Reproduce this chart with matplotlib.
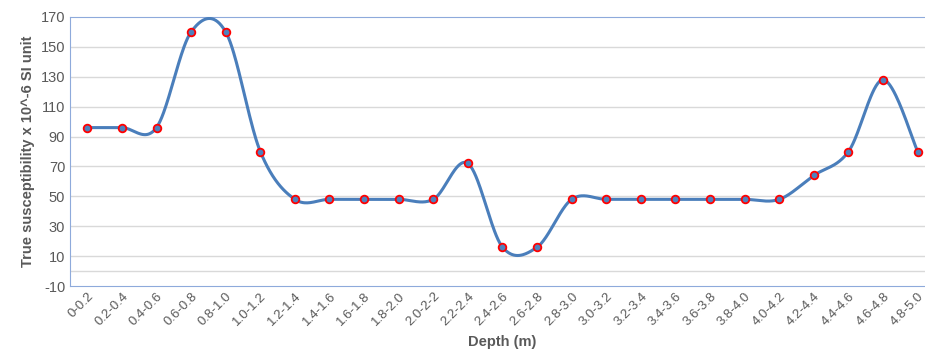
import matplotlib.pyplot as plt
import numpy as np

# categories de profondeur et valeurs
depths = ['0-0.2', '0.2-0.4', '0.4-0.6', '0.6-0.8', '0.8-1.0', '1.0-1.2', '1.2-1.4',
          '1.4-1.6', '1.6-1.8', '1.8-2.0', '2.0-2-2', '2.2-2.4', '2.4-2.6', '2.6-2.8',
          '2.8-3.0', '3.0-3.2', '3.2-3.4', '3.4-3.6', '3.6-3.8', '3.8-4.0', '4.0-4.2',
          '4.2-4.4', '4.4-4.6', '4.6-4.8', '4.8-5.0']
susceptibility = [96, 96, 96, 160, 160, 80, 48, 48, 48, 48, 48, 72, 16, 16,
                  48, 48, 48, 48, 48, 48, 48, 64, 80, 128, 80]
yticks = list(range(-10, 171, 20))


def smooth(x, y, n=40):
    # courbe lissee facon Excel (Bezier / Catmull-Rom)
    x = np.asarray(x, float)
    y = np.asarray(y, float)
    px = np.concatenate([[x[0]], x, [x[-1]]])
    py = np.concatenate([[y[0]], y, [y[-1]]])
    xs, ys = [], []
    t = np.linspace(0, 1, n)
    for i in range(1, len(px) - 2):
        p0 = np.array([px[i], py[i]])
        p3 = np.array([px[i + 1], py[i + 1]])
        c1 = p0 + (np.array([px[i + 1], py[i + 1]]) - np.array([px[i - 1], py[i - 1]])) / 6
        c2 = p3 - (np.array([px[i + 2], py[i + 2]]) - np.array([px[i], py[i]])) / 6
        b = ((1 - t) ** 3)[:, None] * p0 + (3 * (1 - t) ** 2 * t)[:, None] * c1 \
            + (3 * (1 - t) * t ** 2)[:, None] * c2 + (t ** 3)[:, None] * p3
        xs.extend(b[:, 0])
        ys.extend(b[:, 1])
    return xs, ys


plt.rcParams['font.family'] = ['Liberation Sans', 'DejaVu Sans']
grey = '#595959'

fig = plt.figure(figsize=(9.25, 3.5), dpi=100)
ax = fig.add_axes([70 / 925, 64 / 350, 865 / 925, 269 / 350])

x = np.arange(len(depths))
sx, sy = smooth(x, susceptibility)
ax.plot(sx, sy, color='#4A7EBB', lw=2.2, zorder=3)
ax.plot(x, susceptibility, 'o', ms=5.5, mfc='#4F81BD', mec='#FF0000', mew=1.3, zorder=4)

ax.set_xlim(-0.5, len(depths) - 0.5)
ax.set_ylim(-10, 170)
ax.set_yticks(yticks)
ax.set_yticklabels([str(v) for v in yticks])
ax.set_xticks(x)
ax.set_xticklabels(depths, rotation=45, ha='right', rotation_mode='anchor')
for v in yticks[1:-1] + [0]:
    ax.axhline(v, color='#D9D9D9', lw=1, zorder=1)

for s in ['left', 'top', 'bottom']:
    ax.spines[s].set_color('#8EAADB')
ax.spines['right'].set_visible(False)
ax.tick_params(length=0, colors=grey, labelsize=10.5)
ax.tick_params(axis='x', pad=3, labelsize=9.5)

ax.set_ylabel('True susceptibility x 10^-6 SI unit', fontsize=10.5, fontweight='bold', color=grey)
fig.text(502 / 925, 8 / 350, 'Depth (m)', fontsize=10.5, fontweight='bold', color=grey,
         ha='center', va='center')

fig.savefig('out.png', dpi=100)
